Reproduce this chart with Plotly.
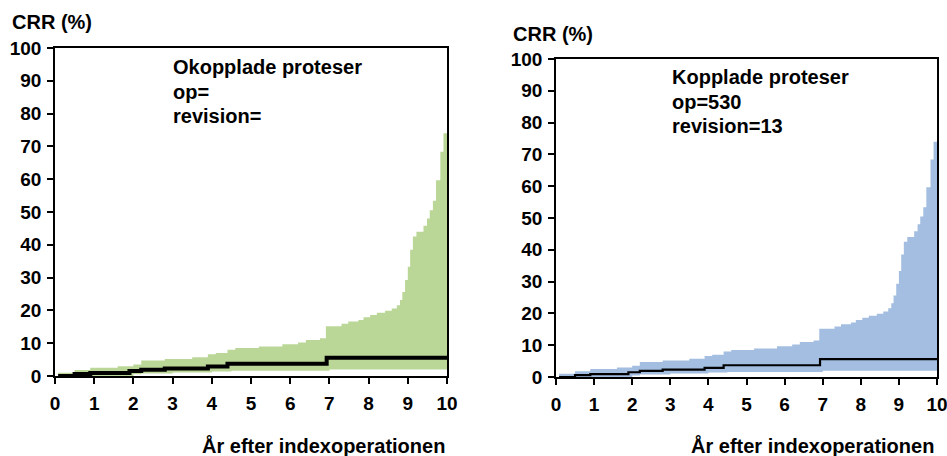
import plotly.graph_objects as go

# ---- data ----
x_ticks = [0, 1, 2, 3, 4, 5, 6, 7, 8, 9, 10]
y_ticks = [0, 10, 20, 30, 40, 50, 60, 70, 80, 90, 100]

upper_x = [0.08, 0.5, 0.9, 1.6, 2.0, 2.2, 2.8, 3.5, 3.9, 4.1, 4.4, 4.6, 5.2, 5.8, 6.2, 6.4,
           6.76, 6.91, 7.31, 7.48, 7.74, 7.87, 8.04, 8.21, 8.42, 8.59, 8.72, 8.80, 8.86,
           8.93, 9.0, 9.06, 9.13, 9.22, 9.40, 9.49, 9.56, 9.64, 9.72, 9.83, 9.91, 10.0]
upper_y = [1.0, 1.8, 2.5, 3.0, 3.5, 4.7, 5.2, 5.7, 6.6, 7.0, 8.0, 8.5, 9.0, 9.7, 10.2, 11.0,
           11.5, 15.2, 15.9, 16.6, 17.1, 17.9, 18.6, 19.3, 19.9, 20.6, 21.6, 23.2, 25.6,
           29.3, 33.3, 38.5, 42.5, 44.0, 45.8, 48.0, 50.5, 53.4, 59.7, 68.4, 74.0, 74.0]

lower_x = [0.08, 2.0, 2.2, 3.0, 4.0, 4.5, 7.0, 10.0]
lower_y = [0.0, 0.5, 0.8, 1.1, 1.4, 1.6, 2.0, 2.0]

crr_x = [0.08, 0.5, 0.9, 1.9, 2.2, 2.8, 3.9, 4.4, 6.93, 10.0]
crr_y = [0.0, 0.6, 0.9, 1.5, 1.9, 2.3, 2.9, 3.7, 5.6, 5.6]

panel_titles = ["Okopplade proteser", "Kopplade proteser"]
panel_op = ["op=", "op=530"]
panel_rev = ["revision=", "revision=13"]
band_colors = ["#bad797", "#a3bee0"]
line_widths = [4, 2.2]

W, H = 947, 456
FONT = "Liberation Sans, Arial, sans-serif"

# panel geometry in pixels: (x_left, x_right, y_top, y_bottom)
panels = [(55, 447, 48, 376), (556, 937, 59, 377)]

fig = go.Figure()

for i, (xl, xr, yt, yb) in enumerate(panels):
    xa = "x" if i == 0 else "x2"
    ya = "y" if i == 0 else "y2"
    fig.add_trace(go.Scatter(x=lower_x, y=lower_y, mode="lines", line=dict(width=0, shape="hv"),
                             xaxis=xa, yaxis=ya, showlegend=False, hoverinfo="skip"))
    fig.add_trace(go.Scatter(x=upper_x, y=upper_y, mode="lines", line=dict(width=0, shape="hv"),
                             fill="tonexty", fillcolor=band_colors[i],
                             xaxis=xa, yaxis=ya, showlegend=False, hoverinfo="skip"))
    fig.add_trace(go.Scatter(x=crr_x, y=crr_y, mode="lines",
                             line=dict(width=line_widths[i], shape="hv", color="black"),
                             xaxis=xa, yaxis=ya, showlegend=False))

axis_common = dict(showgrid=False, zeroline=False, showline=True, linecolor="black", linewidth=1.5,
                   mirror=True, ticks="outside", ticklen=6, tickcolor="black", tickwidth=1.5,
                   automargin=False, ticklabeloverflow="allow",
                   tickfont=dict(family=FONT, size=19, color="black", weight="bold"))

def dom_x(a, b):
    return [a / W, b / W]

def dom_y(top, bot):
    return [(H - bot) / H, (H - top) / H]

layout = dict(
    width=W, height=H, margin=dict(l=0, r=0, t=0, b=0, autoexpand=False),
    paper_bgcolor="white", plot_bgcolor="white",
)
for i, (xl, xr, yt, yb) in enumerate(panels):
    sx = "" if i == 0 else "2"
    layout["xaxis" + sx] = dict(axis_common, domain=dom_x(xl, xr), range=[0, 10], tickvals=x_ticks,
                                anchor="y" + sx, ticklabelstandoff=3)
    layout["yaxis" + sx] = dict(axis_common, domain=dom_y(yt, yb), range=[0, 100], tickvals=y_ticks,
                                anchor="x" + sx, ticklabelstandoff=2)
fig.update_layout(**layout)

ann = []
def add_text(txt, px, py, xanchor="left", size=20):
    ann.append(dict(text=txt, x=px / W, y=(H - py) / H, xref="paper", yref="paper",
                    xanchor=xanchor, yanchor="middle", showarrow=False,
                    font=dict(family=FONT, size=size, color="black", weight="bold")))

# axis titles
add_text("CRR (%)", 10, 22)
add_text("CRR (%)", 511, 34)
add_text("År efter indexoperationen", 447, 445, xanchor="right")
add_text("År efter indexoperationen", 936, 445, xanchor="right")

text_pos = [(171, 67), (670, 77)]
for i, (tx, ty) in enumerate(text_pos):
    add_text(panel_titles[i], tx, ty)
    add_text(panel_op[i], tx, ty + 24.5)
    add_text(panel_rev[i], tx, ty + 49)

fig.update_layout(annotations=ann)
fig.write_html("out.html", config={"displayModeBar": False},
               post_script="document.body.style.margin='0';document.body.style.overflow='hidden';")
